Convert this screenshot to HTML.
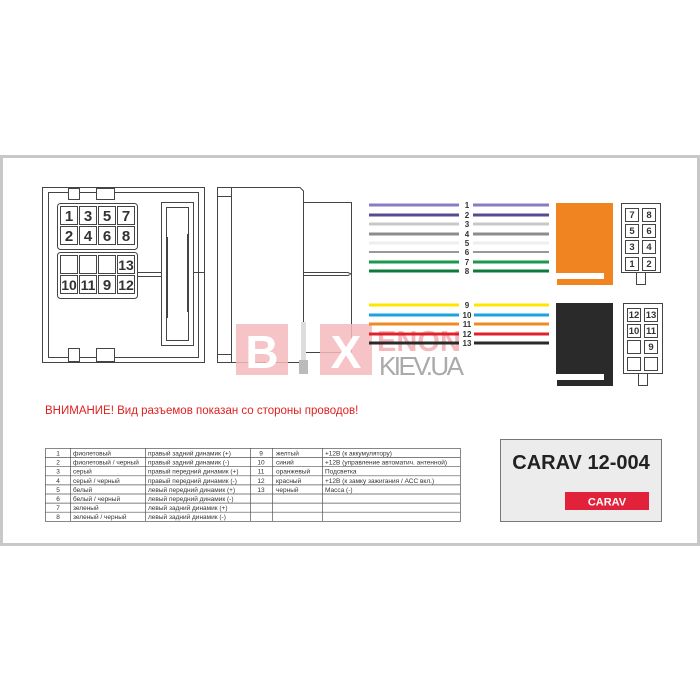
<!DOCTYPE html>
<html><head><meta charset="utf-8"><style>
body{margin:0;background:#fff}
svg{display:block;font-family:"Liberation Sans",sans-serif}
</style></head><body>
<svg width="700" height="700" viewBox="0 0 700 700" xmlns="http://www.w3.org/2000/svg">
<rect x="1.5" y="156.5" width="697" height="388" fill="#fff" stroke="#c8c8c8" stroke-width="3"/>
<g fill="none" stroke="#444" stroke-width="1">
<rect x="42.5" y="187.5" width="162" height="175"/>
<rect x="48.5" y="192.5" width="150" height="165"/>
<rect x="68.5" y="188.5" width="11" height="11" fill="#fff"/>
<rect x="96.5" y="188.5" width="18" height="11" fill="#fff"/>
<rect x="68.5" y="348.5" width="11" height="13" fill="#fff"/>
<rect x="96.5" y="348.5" width="18" height="13" fill="#fff"/>
<rect x="57.5" y="203.5" width="80" height="46" rx="3"/>
<rect x="57.5" y="252.5" width="80" height="46" rx="3"/>
<line x1="137" y1="272.5" x2="204" y2="272.5"/>
<line x1="137" y1="276.5" x2="162" y2="276.5"/>
<rect x="161.5" y="202.5" width="32" height="143" fill="#fff"/>
<rect x="166.5" y="207.5" width="22" height="133"/>
<line x1="167" y1="237" x2="167" y2="318" stroke-width="2"/>
<line x1="188" y1="234" x2="188" y2="312" stroke-width="2"/>
</g>
<g fill="#fff" stroke="#444">
<rect x="60.5" y="206.5" width="17" height="18"/><rect x="79.5" y="206.5" width="17" height="18"/><rect x="98.5" y="206.5" width="17" height="18"/><rect x="117.5" y="206.5" width="17" height="18"/>
<rect x="60.5" y="226.5" width="17" height="18"/><rect x="79.5" y="226.5" width="17" height="18"/><rect x="98.5" y="226.5" width="17" height="18"/><rect x="117.5" y="226.5" width="17" height="18"/>
<rect x="60.5" y="255.5" width="17" height="18"/><rect x="79.5" y="255.5" width="17" height="18"/><rect x="98.5" y="255.5" width="17" height="18"/><rect x="117.5" y="255.5" width="17" height="18"/>
<rect x="60.5" y="275.5" width="17" height="18"/><rect x="79.5" y="275.5" width="17" height="18"/><rect x="98.5" y="275.5" width="17" height="18"/><rect x="117.5" y="275.5" width="17" height="18"/>
</g>
<g font-weight="bold" font-size="15" fill="#333" text-anchor="middle">
<text x="69" y="221">1</text><text x="88" y="221">3</text><text x="107" y="221">5</text><text x="126" y="221">7</text>
<text x="69" y="241">2</text><text x="88" y="241">4</text><text x="107" y="241">6</text><text x="126" y="241">8</text>
<text x="126" y="270" font-size="14">13</text>
<text x="69" y="290" font-size="14">10</text><text x="88" y="290" font-size="14">11</text><text x="107" y="290">9</text><text x="126" y="290" font-size="14">12</text>
</g>
<g fill="none" stroke="#444">
<path d="M217.5 187.5 H300 L303.5 191 V358 L300 362.5 H217.5 Z"/>
<line x1="231.5" y1="188" x2="231.5" y2="362"/>
<line x1="218" y1="196.5" x2="231" y2="196.5"/>
<line x1="218" y1="354.5" x2="231" y2="354.5"/>
<path d="M303.5 202.5 H351.5 V352.5 H303.5"/>
<path d="M304 272.5 H348 L351 274 L348 275.5 H304"/>
</g>
<rect x="236" y="324" width="52" height="51" fill="#f4b8bc" opacity="0.85"/>
<rect x="320" y="324" width="52" height="51" fill="#f4b8bc" opacity="0.85"/>
<text x="262" y="368" font-size="46" font-weight="bold" fill="#fff" text-anchor="middle">B</text>
<text x="346" y="368" font-size="46" font-weight="bold" fill="#fff" text-anchor="middle">X</text>
<rect x="301" y="322" width="5" height="38" fill="#ddd"/><rect x="299" y="360" width="9" height="14" fill="#bbb"/>
<text x="377" y="351" font-size="29" font-weight="bold" fill="#f4b8bc" textLength="84">ENON</text>
<text x="379" y="375" font-size="26" fill="#aaa" textLength="85">KIEV.UA</text>
<g stroke-width="3">
<line x1="369" y1="205" x2="459" y2="205" stroke="#8a7bc4"/><line x1="473" y1="205" x2="549" y2="205" stroke="#8a7bc4"/>
<line x1="369" y1="215" x2="459" y2="215" stroke="#5a4a8e"/><line x1="473" y1="215" x2="549" y2="215" stroke="#5a4a8e"/>
<line x1="369" y1="224" x2="459" y2="224" stroke="#c8c8c8"/><line x1="473" y1="224" x2="549" y2="224" stroke="#c8c8c8"/>
<line x1="369" y1="234" x2="459" y2="234" stroke="#8c8c8c"/><line x1="473" y1="234" x2="549" y2="234" stroke="#8c8c8c"/>
<line x1="369" y1="243" x2="459" y2="243" stroke="#eeeeee"/><line x1="473" y1="243" x2="549" y2="243" stroke="#eeeeee"/>
<line x1="369" y1="252" x2="459" y2="252" stroke="#777" stroke-width="1.5"/><line x1="473" y1="252" x2="549" y2="252" stroke="#777" stroke-width="1.5"/>
<line x1="369" y1="262" x2="459" y2="262" stroke="#1a9a4a"/><line x1="473" y1="262" x2="549" y2="262" stroke="#1a9a4a"/>
<line x1="369" y1="271" x2="459" y2="271" stroke="#0f7a3a"/><line x1="473" y1="271" x2="549" y2="271" stroke="#0f7a3a"/>
<line x1="369" y1="305" x2="459" y2="305" stroke="#ffe600"/><line x1="474" y1="305" x2="549" y2="305" stroke="#ffe600"/>
<line x1="369" y1="315" x2="459" y2="315" stroke="#1aa3e0"/><line x1="474" y1="315" x2="549" y2="315" stroke="#1aa3e0"/>
<line x1="369" y1="324" x2="459" y2="324" stroke="#f08a24"/><line x1="474" y1="324" x2="549" y2="324" stroke="#f08a24"/>
<line x1="369" y1="334" x2="459" y2="334" stroke="#e0202a"/><line x1="474" y1="334" x2="549" y2="334" stroke="#e0202a"/>
<line x1="369" y1="343" x2="459" y2="343" stroke="#2a2a2a"/><line x1="474" y1="343" x2="549" y2="343" stroke="#2a2a2a"/>
</g>
<g font-size="8" font-weight="bold" fill="#333" text-anchor="middle">
<text x="467" y="208">1</text><text x="467" y="218">2</text><text x="467" y="227">3</text><text x="467" y="237">4</text><text x="467" y="246">5</text><text x="467" y="255">6</text><text x="467" y="265">7</text><text x="467" y="274">8</text>
<text x="467" y="308">9</text><text x="467" y="318">10</text><text x="467" y="327">11</text><text x="467" y="337">12</text><text x="467" y="346">13</text>
</g>
<g fill="#ef8420">
<rect x="556" y="203" width="57" height="70"/>
<rect x="604" y="273" width="9" height="12"/>
<rect x="557" y="279" width="50" height="6"/>
</g>
<g fill="#2a2a2a">
<rect x="556" y="303" width="57" height="71"/>
<rect x="604" y="374" width="9" height="12"/>
<rect x="557" y="380" width="50" height="6"/>
</g>
<g fill="#fff" stroke="#444">
<rect x="621.5" y="203.5" width="39" height="69"/>
<rect x="636.5" y="272.5" width="9" height="12"/>
<rect x="625.5" y="208.5" width="13" height="13"/><rect x="642.5" y="208.5" width="13" height="13"/>
<rect x="625.5" y="224.5" width="13" height="13"/><rect x="642.5" y="224.5" width="13" height="13"/>
<rect x="625.5" y="240.5" width="13" height="13"/><rect x="642.5" y="240.5" width="13" height="13"/>
<rect x="625.5" y="257.5" width="13" height="13"/><rect x="642.5" y="257.5" width="13" height="13"/>
<rect x="623.5" y="303.5" width="39" height="70"/>
<rect x="638.5" y="373.5" width="9" height="12"/>
<rect x="627.5" y="308.5" width="13" height="13"/><rect x="644.5" y="308.5" width="13" height="13"/>
<rect x="627.5" y="324.5" width="13" height="13"/><rect x="644.5" y="324.5" width="13" height="13"/>
<rect x="627.5" y="340.5" width="13" height="13"/><rect x="644.5" y="340.5" width="13" height="13"/>
<rect x="627.5" y="357.5" width="13" height="13"/><rect x="644.5" y="357.5" width="13" height="13"/>
</g>
<g font-size="9.5" font-weight="bold" fill="#333" text-anchor="middle">
<text x="632" y="218">7</text><text x="649" y="218">8</text><text x="632" y="234">5</text><text x="649" y="234">6</text>
<text x="632" y="250">3</text><text x="649" y="250">4</text><text x="632" y="267">1</text><text x="649" y="267">2</text>
<text x="634" y="318">12</text><text x="651" y="318">13</text><text x="634" y="334">10</text><text x="651" y="334">11</text>
<text x="651" y="350">9</text>
</g>
<text x="45" y="414" font-size="11.5" fill="#e02020">ВНИМАНИЕ! Вид разъемов показан со стороны проводов!</text>
<g stroke="#555" stroke-width="0.7" fill="none">
<rect x="45.5" y="448.5" width="415" height="73"/>
<line x1="45" y1="457.6" x2="460" y2="457.6"/><line x1="45" y1="466.7" x2="460" y2="466.7"/><line x1="45" y1="475.8" x2="460" y2="475.8"/><line x1="45" y1="484.9" x2="460" y2="484.9"/><line x1="45" y1="494" x2="460" y2="494"/><line x1="45" y1="503.1" x2="460" y2="503.1"/><line x1="45" y1="512.2" x2="460" y2="512.2"/>
<line x1="70.5" y1="448" x2="70.5" y2="521"/><line x1="145.5" y1="448" x2="145.5" y2="521"/><line x1="250.5" y1="448" x2="250.5" y2="521"/><line x1="272.5" y1="448" x2="272.5" y2="521"/><line x1="322.5" y1="448" x2="322.5" y2="521"/>
</g>
<g font-size="6.5" fill="#333">
<g text-anchor="middle"><text x="58" y="455.5">1</text><text x="58" y="464.6">2</text><text x="58" y="473.7">3</text><text x="58" y="482.8">4</text><text x="58" y="491.9">5</text><text x="58" y="501">6</text><text x="58" y="510.1">7</text><text x="58" y="519.2">8</text>
<text x="261" y="455.5">9</text><text x="261" y="464.6">10</text><text x="261" y="473.7">11</text><text x="261" y="482.8">12</text><text x="261" y="491.9">13</text></g>
<text x="73" y="455.5">фиолетовый</text><text x="73" y="464.6">фиолетовый / черный</text><text x="73" y="473.7">серый</text><text x="73" y="482.8">серый / черный</text><text x="73" y="491.9">белый</text><text x="73" y="501">белый / черный</text><text x="73" y="510.1">зеленый</text><text x="73" y="519.2">зеленый / черный</text>
<text x="148" y="455.5">правый задний динамик (+)</text><text x="148" y="464.6">правый задний динамик (-)</text><text x="148" y="473.7">правый передний динамик (+)</text><text x="148" y="482.8">правый передний динамик (-)</text><text x="148" y="491.9">левый передний динамик (+)</text><text x="148" y="501">левый передний динамик (-)</text><text x="148" y="510.1">левый задний динамик (+)</text><text x="148" y="519.2">левый задний динамик (-)</text>
<text x="276" y="455.5">желтый</text><text x="276" y="464.6">синий</text><text x="276" y="473.7">оранжевый</text><text x="276" y="482.8">красный</text><text x="276" y="491.9">черный</text>
<text x="325" y="455.5">+12В (к аккумулятору)</text><text x="325" y="464.6">+12В (управление автоматич. антенной)</text><text x="325" y="473.7">Подсветка</text><text x="325" y="482.8">+12В (к замку зажигания / АСС вкл.)</text><text x="325" y="491.9">Масса (-)</text>
</g>
<rect x="500.5" y="439.5" width="161" height="82" fill="#ececec" stroke="#777"/>
<text x="581" y="469" font-size="20" font-weight="bold" fill="#222" text-anchor="middle">CARAV 12-004</text>
<rect x="565" y="492" width="84" height="18" fill="#e2223a"/>
<text x="607" y="505.5" font-size="11" font-weight="bold" fill="#fff" text-anchor="middle">CARAV</text>
</svg>
</body></html>
